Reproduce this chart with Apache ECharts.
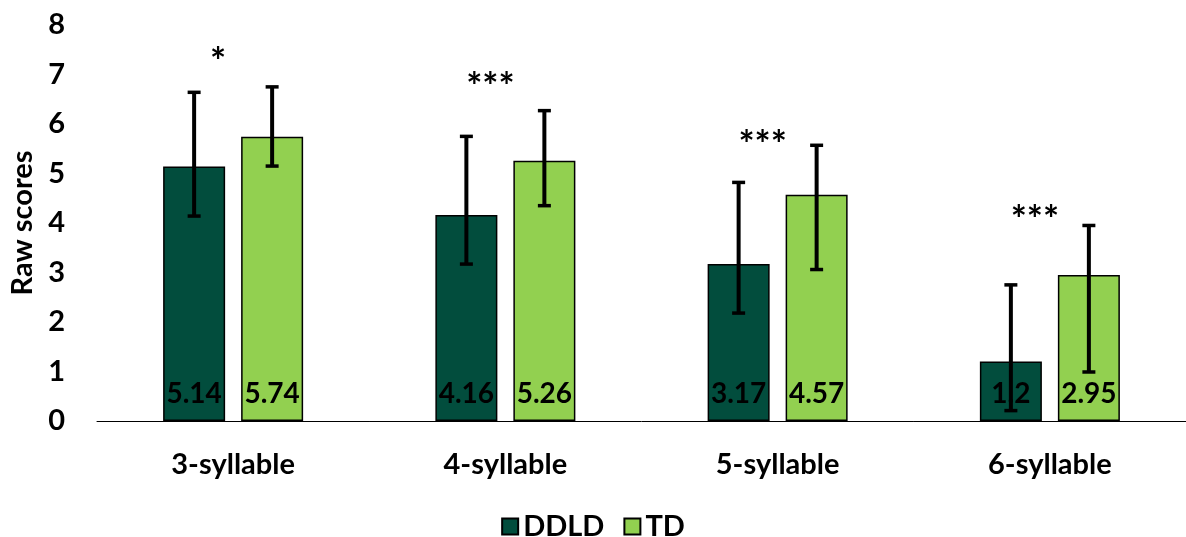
<!DOCTYPE html>
<html>
<head>
<meta charset="utf-8">
<script src="https://cdn.jsdelivr.net/npm/echarts@6/dist/echarts.min.js"></script>
<style>
  html, body { margin: 0; padding: 0; background: #fff; }
  #chart { width: 1186px; height: 537px; }
</style>
</head>
<body>
<div id="chart"></div>
<script>
const categories = ['3-syllable', '4-syllable', '5-syllable', '6-syllable']
const ddld = [5.14, 4.16, 3.17, 1.2]
const td = [5.74, 5.26, 4.57, 2.95]
const ddldLow = [4.14, 3.17, 2.18, 0.21]
const ddldHigh = [6.64, 5.75, 4.82, 2.75]
const tdLow = [5.15, 4.35, 3.06, 0.99]
const tdHigh = [6.75, 6.27, 5.57, 3.95]
const sigLabels = ['*', '***', '***', '***']
const sigY = [7.39, 6.89, 5.73, 4.21]

const FONT = 'Lato'
const BAR_W = 62
const BAR_GAP = 16
const DARK = '#024D3D'
const LIGHT = '#92D050'

const chart = echarts.init(document.getElementById('chart'))

const errorSeries = (name, low, high, offset) => ({
  name,
  type: 'custom',
  z: 5,
  silent: true,
  data: categories.map((c, i) => [i, low[i], high[i]]),
  renderItem: (params, api) => {
    const pLo = api.coord([api.value(0), api.value(1)])
    const pHi = api.coord([api.value(0), api.value(2)])
    const x = pLo[0] + offset
    const style = { stroke: '#000', lineWidth: 4 }
    const cap = { stroke: '#000', lineWidth: 3.5 }
    return {
      type: 'group',
      children: [
        { type: 'line', shape: { x1: x, y1: pLo[1], x2: x, y2: pHi[1] }, style },
        { type: 'line', shape: { x1: x - 6.5, y1: pHi[1], x2: x + 6.5, y2: pHi[1] }, style: cap },
        { type: 'line', shape: { x1: x - 6.5, y1: pLo[1], x2: x + 6.5, y2: pLo[1] }, style: cap }
      ]
    }
  }
})

const valueLabel = {
  show: true,
  position: 'insideBottom',
  distance: 13,
  color: '#000',
  fontFamily: FONT,
  fontWeight: 'bold',
  fontSize: 28
}

const option = {
  animation: false,
  grid: { left: 95, right: 0, top: 25, bottom: 116 },
  legend: {
    data: ['DDLD', 'TD'],
    top: 507,
    left: 'center',
    icon: 'rect',
    itemWidth: 16,
    itemHeight: 16,
    itemGap: 19,
    textStyle: { fontFamily: FONT, fontWeight: 'bold', fontSize: 29, color: '#000' }
  },
  xAxis: {
    type: 'category',
    data: categories,
    axisLine: { lineStyle: { color: '#000', width: 1 } },
    axisTick: { show: false },
    axisLabel: { margin: 29, color: '#000', fontFamily: FONT, fontWeight: 'bold', fontSize: 29 }
  },
  yAxis: {
    type: 'value',
    min: 0,
    max: 8,
    interval: 1,
    name: 'Raw scores',
    nameLocation: 'middle',
    nameGap: 60,
    nameRotate: 90,
    nameTextStyle: { color: '#000', fontFamily: FONT, fontWeight: 'bold', fontSize: 29 },
    axisLine: { show: false },
    axisTick: { show: false },
    splitLine: { show: false },
    axisLabel: { margin: 32, color: '#000', fontFamily: FONT, fontWeight: 'bold', fontSize: 29 }
  },
  series: [
    {
      name: 'DDLD',
      type: 'bar',
      data: ddld,
      barWidth: BAR_W,
      barGap: (BAR_GAP / BAR_W * 100) + '%',
      itemStyle: { color: DARK, borderColor: '#000', borderWidth: 1.5 },
      label: valueLabel
    },
    {
      name: 'TD',
      type: 'bar',
      data: td,
      barWidth: BAR_W,
      itemStyle: { color: LIGHT, borderColor: '#000', borderWidth: 1.5 },
      label: valueLabel
    },
    errorSeries('DDLD err', ddldLow, ddldHigh, -(BAR_W + BAR_GAP) / 2),
    errorSeries('TD err', tdLow, tdHigh, (BAR_W + BAR_GAP) / 2),
    {
      name: 'sig',
      type: 'custom',
      z: 5,
      silent: true,
      data: categories.map((c, i) => [i, sigY[i]]),
      renderItem: (params, api) => {
        const p = api.coord([api.value(0), api.value(1)])
        return {
          type: 'text',
          x: p[0] - 15,
          y: p[1] + 8,
          style: {
            text: sigLabels[params.dataIndex],
            fill: '#000',
            font: 'bold 38px ' + FONT,
            align: 'center',
            verticalAlign: 'middle'
          }
        }
      }
    }
  ]
}

chart.setOption(option)
</script>
</body>
</html>
